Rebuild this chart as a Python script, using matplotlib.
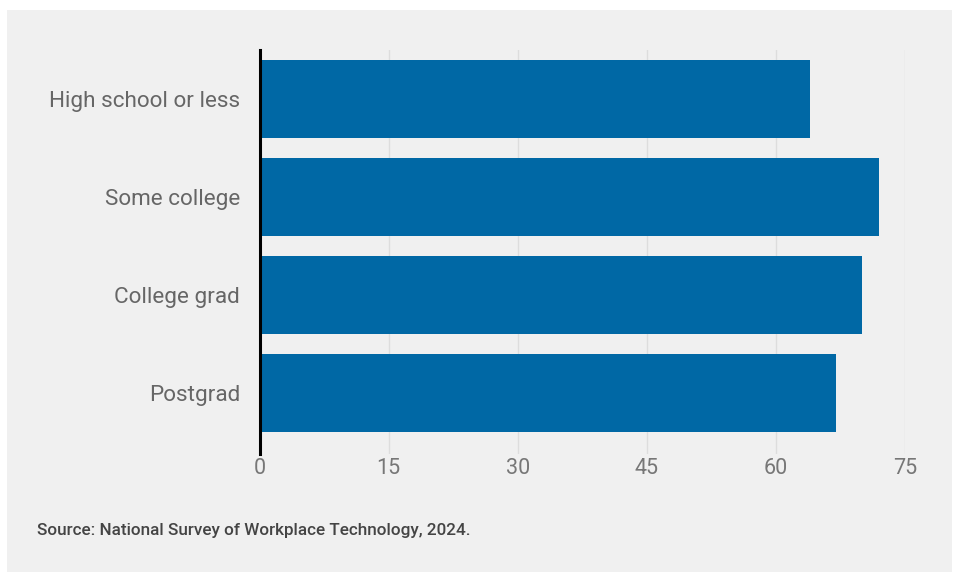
import matplotlib.pyplot as plt
from matplotlib.patches import Rectangle

categories = ["High school or less", "Some college", "College grad", "Postgrad"]
values = [64, 72, 70, 67]
ticks = [0, 15, 30, 45, 60, 75]

fig = plt.figure(figsize=(9.58, 5.75), dpi=100)
fig.patch.set_facecolor("white")
# grey panel behind the chart
fig.patches.append(Rectangle((7 / 958, 3 / 575), 945 / 958, 562 / 575,
                             transform=fig.transFigure, facecolor="#f0f0f0",
                             edgecolor="none", zorder=-5))

ax = fig.add_axes([259.6 / 958, 1 - 454 / 575, (905 - 259.6) / 958, 404 / 575])
ax.set_facecolor("none")
ax.set_zorder(2)

ypos = range(len(categories))
ax.barh(ypos, values, height=0.8, color="#0068a5", zorder=3)
ax.set_ylim(3.62, -0.5)
ax.set_xlim(0, 75)

ax.set_yticks(list(ypos))
ax.set_yticklabels(categories, fontsize=16.2, color="#666666", family="Roboto")
ax.set_xticks(ticks)
ax.set_xticklabels([str(t) for t in ticks], fontsize=15.5, color="#777777", family="Roboto")

ax.tick_params(axis="y", length=0, pad=14)
ax.tick_params(axis="x", length=0, pad=3)
ax.grid(axis="x", color="#dddddd", linewidth=1, zorder=1)
for s in ["top", "right", "bottom"]:
    ax.spines[s].set_visible(False)
ax.spines["left"].set_color("black")
ax.spines["left"].set_linewidth(2.2)
ax.spines["left"].set_zorder(4)

fig.text(37 / 958, 1 - 531 / 575, "Source: National Survey of Workplace Technology, 2024.",
         fontsize=12.3, color="#444444", family="Roboto", fontweight="medium", va="center")

fig.savefig("out.png", dpi=100)
